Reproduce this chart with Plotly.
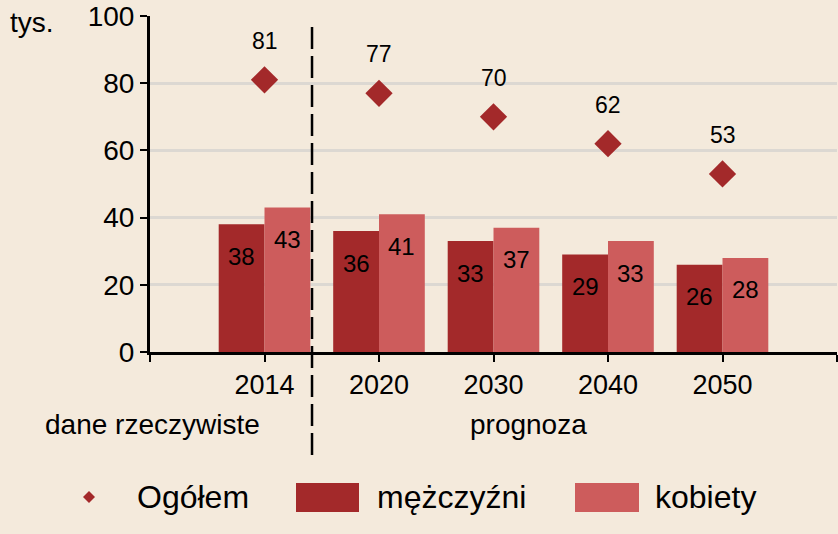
import plotly.graph_objects as go

years = ["2014", "2020", "2030", "2040", "2050"]
positions = [1, 2, 3, 4, 5]
ogolem = [81, 77, 70, 62, 53]
mezczyzni = [38, 36, 33, 29, 26]
kobiety = [43, 41, 37, 33, 28]
y_ticks = [0, 20, 40, 60, 80, 100]

BG = "#F4EADC"
MEN = "#A3292A"
WOMEN = "#CD5C5C"
FONT = "Liberation Sans, Arial, sans-serif"

W, H = 838, 534
L, R, T, B = 150, 1, 16, 182
PW, PH = W - L - R, H - T - B


def px(x):
    # page pixel x -> paper fraction
    return (x - L) / PW


def py(y):
    # page pixel y -> paper fraction
    return (H - B - y) / PH


fig = go.Figure()
fig.add_trace(go.Bar(x=positions, y=mezczyzni, name="mężczyźni",
                     marker=dict(color=MEN, line=dict(width=0)), showlegend=False))
fig.add_trace(go.Bar(x=positions, y=kobiety, name="kobiety",
                     marker=dict(color=WOMEN, line=dict(width=0)), showlegend=False))
fig.add_trace(go.Scatter(x=positions, y=ogolem, name="Ogółem", mode="markers",
                         marker=dict(symbol="diamond", size=21, color=MEN),
                         showlegend=False))

annotations = []
for xp, v in zip(positions, mezczyzni):
    annotations.append(dict(x=xp - 0.2, y=v, xref="x", yref="y", text=str(v),
                            showarrow=False, yshift=-32, yanchor="middle",
                            font=dict(size=24, color="black", family=FONT)))
for xp, v in zip(positions, kobiety):
    annotations.append(dict(x=xp + 0.2, y=v, xref="x", yref="y", text=str(v),
                            showarrow=False, yshift=-32, yanchor="middle",
                            font=dict(size=24, color="black", family=FONT)))
for xp, v in zip(positions, ogolem):
    annotations.append(dict(x=xp, y=v, xref="x", yref="y", text=str(v),
                            showarrow=False, yshift=39, yanchor="middle",
                            font=dict(size=23, color="black", family=FONT)))

annotations += [
    dict(x=px(8), y=py(22), xref="paper", yref="paper", text="tys.", showarrow=False,
         xanchor="left", yanchor="middle", font=dict(size=28, color="black", family=FONT)),
    dict(x=px(152), y=py(425), xref="paper", yref="paper", text="dane rzeczywiste",
         showarrow=False, xanchor="center", yanchor="middle",
         font=dict(size=28, color="black", family=FONT)),
    dict(x=px(528), y=py(425), xref="paper", yref="paper", text="prognoza",
         showarrow=False, xanchor="center", yanchor="middle",
         font=dict(size=28, color="black", family=FONT)),
    dict(x=px(135), y=py(497), xref="paper", yref="paper", text="Ogółem",
         showarrow=False, xanchor="left", yanchor="middle",
         font=dict(size=32, color="black", family=FONT)),
    dict(x=px(375), y=py(497), xref="paper", yref="paper", text="mężczyźni",
         showarrow=False, xanchor="left", yanchor="middle",
         font=dict(size=32, color="black", family=FONT)),
    dict(x=px(653), y=py(497), xref="paper", yref="paper", text="kobiety",
         showarrow=False, xanchor="left", yanchor="middle",
         font=dict(size=32, color="black", family=FONT)),
]

shapes = [
    dict(type="line", xref="x", yref="paper", x0=1.415, x1=1.415,
         y0=py(455), y1=py(27), line=dict(color="black", width=2.5, dash="22px,7px")),
    dict(type="path", xref="paper", yref="paper",
         path=f"M {px(83)},{py(497)} L {px(89)},{py(491)} L {px(95)},{py(497)} L {px(89)},{py(503)} Z",
         fillcolor=MEN, line=dict(width=0)),
    dict(type="rect", xref="paper", yref="paper", x0=px(296), x1=px(359),
         y0=py(512), y1=py(483), fillcolor=MEN, line=dict(width=0)),
    dict(type="rect", xref="paper", yref="paper", x0=px(575), x1=px(639),
         y0=py(512), y1=py(483), fillcolor=WOMEN, line=dict(width=0)),
]

fig.update_layout(
    width=W, height=H,
    margin=dict(l=L, r=R, t=T, b=B, pad=0),
    paper_bgcolor=BG, plot_bgcolor=BG,
    barmode="group", bargap=0.2, bargroupgap=0,
    font=dict(family=FONT, color="black"),
    annotations=annotations, shapes=shapes,
    xaxis=dict(range=[0, 6], tickvals=[0, 1, 2, 3, 4, 5, 6],
               ticktext=[""] + years + [""],
               ticks="outside", ticklen=7, tickwidth=2, tickcolor="black",
               showline=True, linecolor="black", linewidth=3,
               showgrid=False, zeroline=False, ticklabeloverflow="allow",
               tickfont=dict(size=27, family=FONT, color="black")),
    yaxis=dict(range=[0, 100], tickvals=y_ticks,
               ticks="outside", ticklen=7, tickwidth=2, tickcolor="black",
               showline=True, linecolor="black", linewidth=3,
               showgrid=True, gridcolor="#DCD8D2", gridwidth=2.5, zeroline=False,
               ticklabeloverflow="allow",
               tickfont=dict(size=28, family=FONT, color="black")),
)

fig.write_html("out.html",
               config={"displayModeBar": False},
               post_script="document.body.style.margin='0';"
                           "document.body.style.overflow='hidden';"
                           f"document.body.style.background='{BG}';")
